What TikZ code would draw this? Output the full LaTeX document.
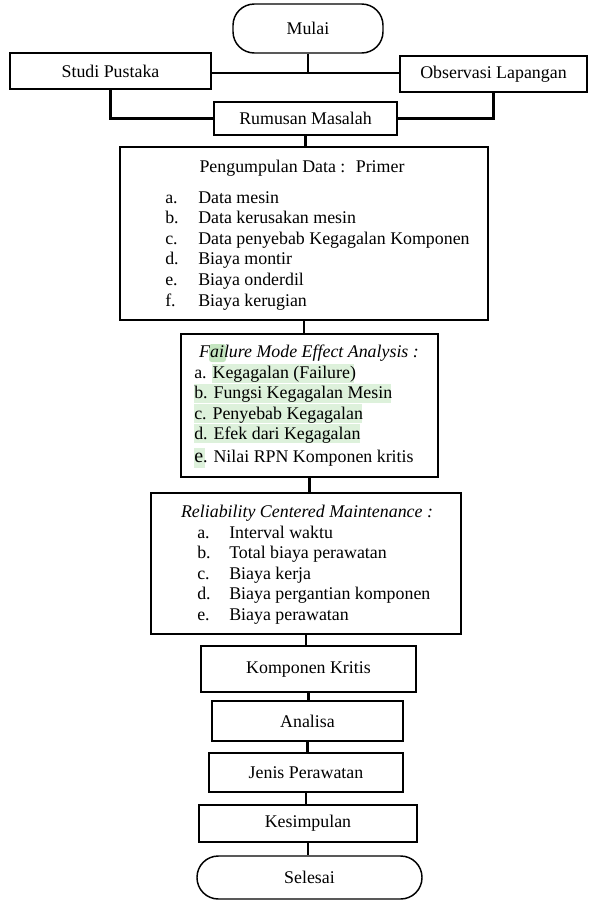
\documentclass[tikz,border=0pt]{standalone}
\usepackage{fontspec}
\setmainfont{Liberation Serif}
\definecolor{hlgreen}{HTML}{DDF1DB}
\definecolor{hlgreendark}{HTML}{C4E5C0}
\newcommand{\flowfont}{\fontsize{13.4}{15.4}\selectfont}
\tikzset{
  sz/.style 2 args={minimum width=#1*0.75pt, minimum height=#2*0.75pt},
  box/.style={draw, line width=1.1pt, inner sep=0pt},
  terminal/.style={box, rounded corners=16pt},
  link/.style={line width=1.8pt},
  ttl/.style={anchor=base, inner sep=0pt},
  itm/.style={anchor=base west, inner sep=0pt},
}

\begin{document}
\begin{tikzpicture}[x=0.75pt, y=-0.75pt, font=\flowfont]
  \useasboundingbox (0,0) rectangle (589,900);
  % start and the two sources
  \node[terminal, sz={150}{49}] (mulai) at (308,28.5) {Mulai};
  \node[box, sz={201}{36}] (studi) at (110.5,71) {Studi Pustaka};
  \node[box, sz={187}{36}] (obs) at (493.5,74) {Observasi Lapangan};
  \node[box, sz={183}{33}] (rumusan) at (305.5,118.5) {Rumusan Masalah};
  \coordinate (split) at (308,73);
  \draw[link] (mulai.south) -- (split);
  \draw[link] (studi.east |- split) -- (obs.west |- split);
  \draw[link] (studi.south) -- (studi.south |- rumusan.west) -- (rumusan.west);
  \draw[link] (obs.south) -- (obs.south |- rumusan.east) -- (rumusan.east);

  % pengumpulan data
  \node[box, sz={368}{173}] (data) at (304,233.5) {};
  \node[ttl] (data-t) at (302,172) {Pengumpulan Data :~ Primer};
  \foreach \l/\t [count=\i from 0] in {a./Data mesin, b./Data kerusakan mesin,
      c./Data penyebab Kegagalan Komponen, d./Biaya montir,
      e./Biaya onderdil, f./Biaya kerugian}{
    \node[itm] (data-l\i) at (165,203+20.6*\i) {\l};
    \node[itm] (data-i\i) at (198,203+20.6*\i) {\t};
  }

  % fmea
  \node[box, sz={257}{143}] (fmea) at (309.5,405.5) {};
  \fill[hlgreendark, rounded corners=2pt] (209,344) rectangle (226,362);
  \fill[hlgreen] (212,364) rectangle (354,383);
  \fill[hlgreen] (194,384) rectangle (391,403);
  \fill[hlgreen] (194,404) rectangle (362,423);
  \fill[hlgreen] (194,424) rectangle (360,443);
  \fill[hlgreen] (194,448) rectangle (205,468);
  \node[ttl] (fmea-t) at (309,357) {\itshape Failure Mode Effect Analysis :};
  \foreach \t [count=\i from 0] in {a. Kegagalan (Failure), b. Fungsi Kegagalan Mesin,
      c. Penyebab Kegagalan, d. Efek dari Kegagalan}{
    \node[itm] (fmea-i\i) at (194,378+20.5*\i) {\t};
  }
  \node[itm] (fmea-i4) at (194,462) {{\fontsize{15}{15}\selectfont e}. Nilai RPN Komponen kritis};

  % rcm
  \node[box, sz={310}{141}] (rcm) at (306,563.5) {};
  \node[ttl] (rcm-t) at (307,517) {\itshape Reliability Centered Maintenance :};
  \foreach \l/\t [count=\i from 0] in {a./Interval waktu, b./Total biaya perawatan,
      c./Biaya kerja, d./Biaya pergantian komponen, e./Biaya perawatan}{
    \node[itm] (rcm-l\i) at (197,538+20.5*\i) {\l};
    \node[itm] (rcm-i\i) at (229,538+20.5*\i) {\t};
  }

  % results
  \node[box, sz={215}{46}] (kritis) at (308.5,669) {Komponen Kritis};
  \node[box, sz={191}{40}] (analisa) at (307.5,721) {Analisa};
  \node[box, sz={194}{39}] (jenis) at (306,772.5) {Jenis Perawatan};
  \node[box, sz={218}{37}] (kesimpulan) at (308,823.5) {Kesimpulan};
  \node[terminal, sz={225}{43}] (selesai) at (309.5,877.5) {Selesai};

  \foreach \a/\b in {rumusan/data, data/fmea, fmea/rcm, rcm/kritis, kritis/analisa,
      analisa/jenis, jenis/kesimpulan, kesimpulan/selesai}
    \draw[link] (\a.south) -- (\a.south |- \b.north);
\end{tikzpicture}
\end{document}
